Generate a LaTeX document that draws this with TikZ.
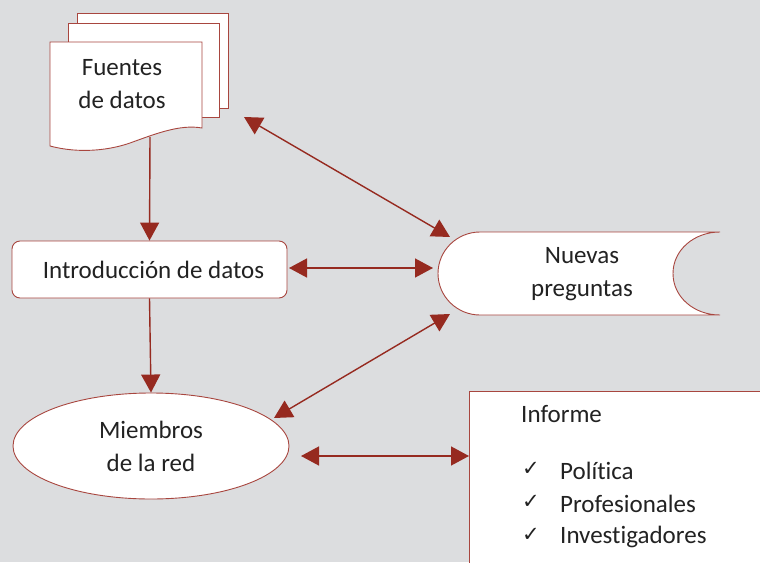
\documentclass[tikz,border=0pt]{standalone}
\usepackage{fontspec}
\setmainfont[Ligatures=NoCommon]{Carlito}
\newfontfamily\dejavu{DejaVu Sans}
\usetikzlibrary{arrows.meta,shapes.geometric}
\definecolor{bg}{HTML}{DCDDDF}
\definecolor{edgec}{HTML}{A8463F}
\definecolor{arr}{HTML}{962A20}
\definecolor{txtc}{HTML}{222222}
\begin{document}
\begin{tikzpicture}[x=1pt,y=-1pt,
  boxshape/.style={draw=edgec, line width=0.9pt, fill=white},
  txt/.style={font=\fontsize{25}{33}\selectfont, text=txtc, align=center},
  chk/.style={anchor=center, inner sep=0pt, text=txtc},
  conn/.style={draw=arr, line width=1.4pt, -{Triangle[length=18pt,width=19pt]}},
  dconn/.style={draw=arr, line width=1.4pt, {Triangle[length=18pt,width=19pt]}-{Triangle[length=18pt,width=19pt]}}]
\fill[bg] (0,0) rectangle (760,562);
\useasboundingbox (0,0) rectangle (760,562);

% data sources (stacked documents)
\draw[boxshape] (77,13) rectangle (228,108);
\draw[boxshape] (68,23) rectangle (219,117);
\draw[boxshape] (50,42) -- (202,42) -- (202,128)
  .. controls (180,124) and (155,134) .. (130,143)
  .. controls (110,150) and (80,154) .. (50,146) -- cycle;
\node[txt] (fuentes) at (122,84) {Fuentes\\de datos};
\coordinate (fbot) at (150,137);

% data entry
\node[boxshape, rounded corners=8pt, minimum width=275pt, minimum height=57pt,
      txt] (intro) at (149.5,269.5) {\hspace*{8pt}Introducción de datos};

% network members
\node[boxshape, ellipse, minimum width=276pt, minimum height=106pt, txt]
  (miem) at (151,446) {Miembros\\de la red};

% new questions (stored data shape)
\draw[boxshape] (480,232) -- (720,232)
  .. controls (694,232) and (673,250) .. (673,273.5)
  .. controls (673,297) and (694,315) .. (720,315)
  -- (480,315)
  .. controls (457,315) and (438,296.5) .. (438,273.5)
  .. controls (438,250.5) and (457,232) .. (480,232) -- cycle;
\node[txt] (nuevas) at (582,274) {Nuevas\\preguntas};

% report
\fill[white] (469,391) rectangle (761,563);
\draw[draw=edgec, line width=0.9pt] (469,563) -- (469,391) -- (761,391);
\coordinate (inf) at (469,456);
\node[txt, anchor=west, inner sep=0pt] (informe) at (521,414) {Informe};
\node[chk] (k1) at (531,469) {\dejavu\fontsize{21}{24}\selectfont ✓};
\node[chk] (k2) at (531,502) {\dejavu\fontsize{21}{24}\selectfont ✓};
\node[chk] (k3) at (531,535) {\dejavu\fontsize{21}{24}\selectfont ✓};
\node[txt, anchor=west, inner sep=0pt] (pol) at (560,471) {Política};
\node[txt, anchor=west, inner sep=0pt] (prof) at (560,504) {Profesionales};
\node[txt, anchor=west, inner sep=0pt] (inv) at (560,537) {Investigadores};

% connectors
\coordinate (a1) at (244,117);
\coordinate (a2) at (450,237);
\coordinate (b1) at (289,268);
\coordinate (b2) at (433,268);
\coordinate (c1p) at (274,418);
\coordinate (c2p) at (450,314);
\coordinate (d1) at (301,456);

\draw[conn] (fbot) -- (intro.north);
\draw[conn] (intro.south) -- (miem.north);
\draw[dconn] (a1) -- (a2);
\draw[dconn] (b1) -- (b2);
\draw[dconn] (c1p) -- (c2p);
\draw[dconn] (d1) -- (inf);
\end{tikzpicture}
\end{document}
